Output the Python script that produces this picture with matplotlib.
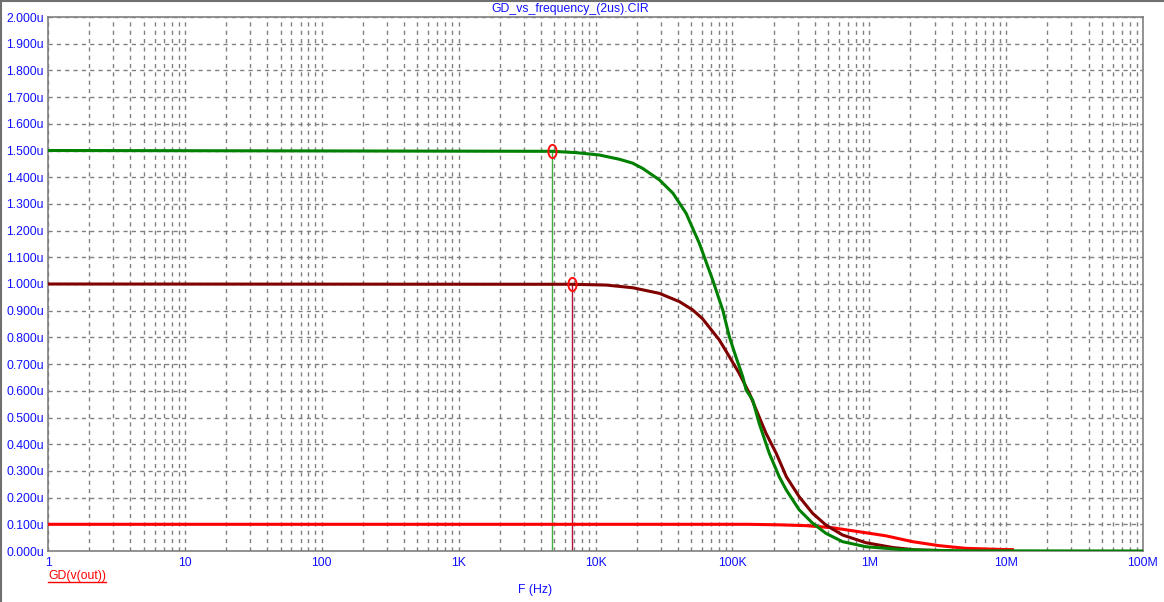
import matplotlib
matplotlib.use("Agg")
import matplotlib.pyplot as plt
import numpy as np
from matplotlib.path import Path
from matplotlib.lines import Line2D

# ---- data (group delay in microseconds) ----
freq_green = [1, 4.85e3, 7.23e3, 10.7e3, 15e3, 18.6e3, 22.1e3, 29.3e3, 36.8e3, 45.9e3, 57.4e3,
              71.8e3, 85e3, 95e3, 106e3, 119e3, 126e3, 140.6e3, 157e3, 186e3, 220e3, 248e3,
              308e3, 386e3, 483e3, 638e3, 946e3, 1.66e6, 3e6, 6e6, 1e8]
gd_green = [1.5, 1.497, 1.492, 1.483, 1.467, 1.453, 1.433, 1.390, 1.340, 1.265, 1.152,
            1.015, 0.903, 0.803, 0.728, 0.653, 0.603, 0.566, 0.478, 0.366, 0.278, 0.228,
            0.154, 0.104, 0.066, 0.035, 0.016, 0.006, 0.002, 0.0005, 0.0]

freq_maroon = [1, 6.68e3, 12e3, 18.7e3, 29.3e3, 41e3, 51.3e3, 60.5e3,
               80.4e3, 95e3, 112e3, 133e3, 153e3, 176e3, 209e3, 248e3, 308e3, 386e3, 483e3,
               638e3, 946e3, 1.49e6, 2.19e6, 4e6]
gd_maroon = [1.0, 0.999, 0.996, 0.986, 0.965, 0.934, 0.903, 0.870,
             0.790, 0.728, 0.666, 0.591, 0.516, 0.441, 0.366, 0.278, 0.203, 0.141, 0.097,
             0.060, 0.031, 0.013, 0.004, 0.001]

freq_red = [1, 1.33e5, 2.2e5, 3.45e5, 5.4e5, 8.45e5, 1.32e6, 2.07e6, 3.24e6, 5.08e6, 8.9e6, 1.14e7]
gd_red = [0.1, 0.1, 0.098, 0.095, 0.087, 0.072, 0.057, 0.035, 0.020, 0.010, 0.006, 0.005]

cursor_freqs = [4.85e3, 6.68e3]
cursor_vals = [1.5, 1.0]

x_ticks = [1, 10, 100, 1e3, 1e4, 1e5, 1e6, 1e7, 1e8]
x_labels = ["1", "10", "100", "1K", "10K", "100K", "1M", "10M", "100M"]
y_ticks = [i / 10 for i in range(21)]
y_labels = ["%.3fu" % v for v in y_ticks]

title = "GD_vs_frequency_(2us).CIR"
xlabel = "F (Hz)"
legend_label = "GD(v(out))"

# ---- figure ----
plt.rcParams['font.family'] = ['Liberation Sans', 'DejaVu Sans']
W, H = 1164, 602
fig = plt.figure(figsize=(W / 100, H / 100), dpi=100)
ax = fig.add_axes([48 / W, 1 - 551 / H, (1143 - 48) / W, (551 - 17) / H])

ax.set_xscale('log')
ax.set_xlim(1, 1e8)
ax.set_ylim(0, 2.0)

blue = '#1010ff'
ax.set_xticks(x_ticks)
ax.set_xticklabels(x_labels)
ax.set_yticks(y_ticks)
ax.set_yticklabels(y_labels)
ax.xaxis.set_minor_locator(matplotlib.ticker.LogLocator(base=10, subs=np.arange(2, 10), numticks=100))
ax.xaxis.set_minor_formatter(matplotlib.ticker.NullFormatter())
ax.tick_params(which='both', length=0, colors=blue, labelsize=8.8)
ax.tick_params(axis='x', pad=4)
ax.tick_params(axis='y', pad=3)

ax.grid(which='both', color='#808080', linestyle=(0, (3, 3)), linewidth=1.0)
ax.set_axisbelow(True)
for s in ax.spines.values():
    s.set_color('#808080')
    s.set_linewidth(1.2)

lw = 2.2
ax.plot(freq_red, gd_red, color='#ff0000', lw=lw, solid_capstyle='butt', zorder=3)
ax.plot(freq_maroon, gd_maroon, color='#800000', lw=lw, solid_capstyle='butt', zorder=4)
ax.plot(freq_green, gd_green, color='#008000', lw=lw, solid_capstyle='butt', zorder=5)

# cursors
cursor_colors = ['#40b040', '#b0103a']
for f, v, c in zip(cursor_freqs, cursor_vals, cursor_colors):
    ax.plot([f, f], [0, v], color=c, lw=1.0, zorder=2)

t = np.linspace(0, 2 * np.pi, 40)
ell = Path(np.column_stack([0.62 * np.cos(t), np.sin(t)]))
ax.plot(cursor_freqs, cursor_vals, linestyle='none', marker=ell, markersize=9.5,
        markerfacecolor='none', markeredgecolor='#ff1010', markeredgewidth=1.4, zorder=6)

# texts
fig.text(570 / W, 1 - 9 / H, title, color=blue, fontsize=8.8, ha='center', va='center')
fig.text(535 / W, 1 - 590 / H, xlabel, color=blue, fontsize=8.8, ha='center', va='center')
lt = fig.text(48 / W, 1 - 576 / H, legend_label, color='#ff0000', fontsize=8.8, ha='left', va='center')

fig.canvas.draw()
bb = lt.get_window_extent()
fig.add_artist(Line2D([bb.x0 / W, bb.x1 / W], [(bb.y0) / H, (bb.y0) / H],
                      color='#ff0000', lw=1.0, transform=fig.transFigure))

# outer border (top and left)
fig.add_artist(Line2D([0, 1], [1 - 1 / H, 1 - 1 / H], color='#707070', lw=1.5, transform=fig.transFigure))
fig.add_artist(Line2D([1 / W, 1 / W], [0, 1], color='#707070', lw=1.5, transform=fig.transFigure))

fig.savefig('out.png', dpi=100)
